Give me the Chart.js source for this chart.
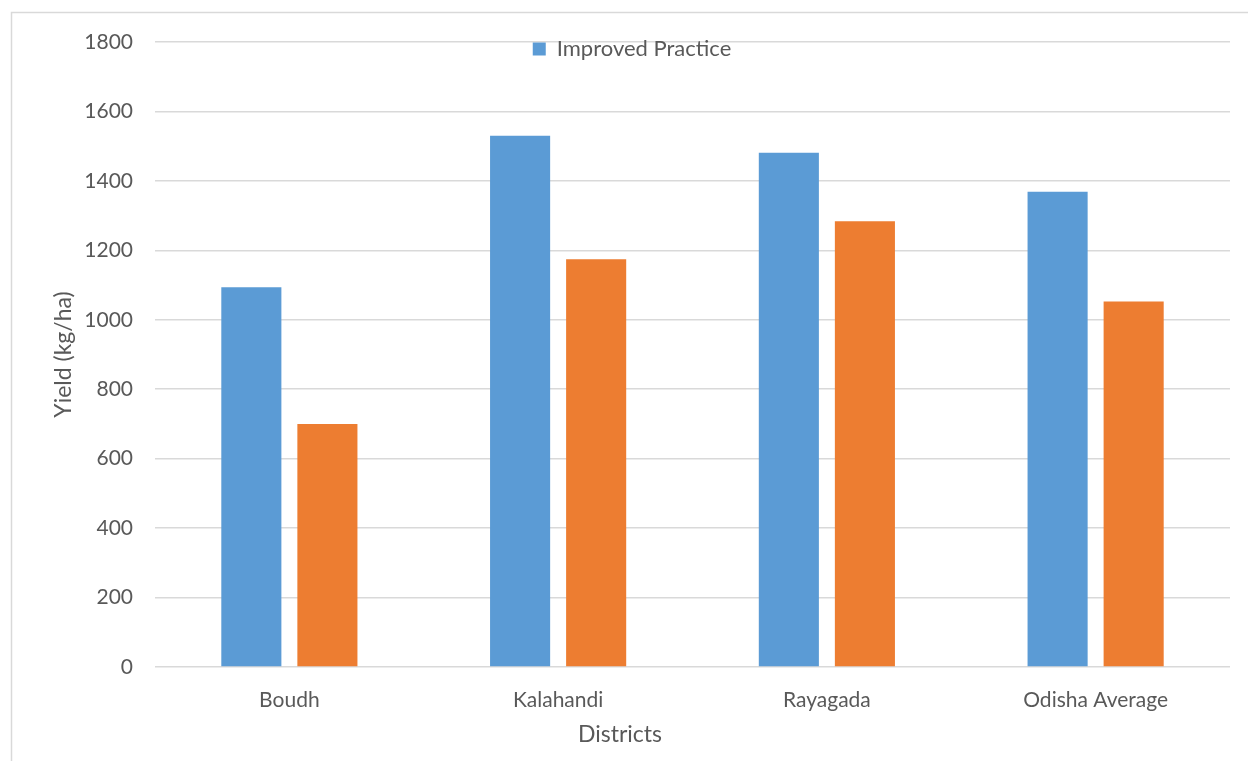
<!DOCTYPE html>
<html>
<head>
<meta charset="utf-8">
<script src="https://cdn.jsdelivr.net/npm/chart.js@4/dist/chart.umd.min.js"></script>
<style>
  html, body { margin: 0; padding: 0; background: #fff; }
  #wrap { width: 1248px; height: 761px; position: relative; }
</style>
</head>
<body>
<div id="wrap"><canvas id="yieldChart"></canvas></div>
<script>
const districts = ['Boudh', 'Kalahandi', 'Rayagada', 'Odisha Average'];
const improvedPractice = [1094, 1530, 1481, 1369];
const farmersPractice = [700, 1174, 1284, 1053];
const yTicks = [0, 200, 400, 600, 800, 1000, 1200, 1400, 1600, 1800];

const textColor = '#595959';
const gridColor = '#d9d9d9';
const fontFamily = 'Lato, "Open Sans", sans-serif';

// outer frame, x axis title (centred on the whole chart) and legend
// pulled down so it sits over the top gridline
const framePlugin = {
  id: 'frame',
  afterLayout(chart) {
    const lg = chart.legend;
    const dy = chart.chartArea.top - 5 - lg.top;
    const dx = 17;
    lg.top += dy;
    lg.bottom += dy;
    lg.left += dx;
    lg.right += dx;
    lg.adjustHitBoxes();
  },
  beforeDraw(chart) {
    const ctx = chart.ctx;
    ctx.save();
    ctx.strokeStyle = gridColor;
    ctx.lineWidth = 1.5;
    ctx.strokeRect(11.5, 12.5, chart.width + 20, chart.height + 20);
    ctx.restore();
  },
  afterDraw(chart) {
    const ctx = chart.ctx;
    ctx.save();
    ctx.fillStyle = textColor;
    ctx.font = '23px ' + fontFamily;
    ctx.textAlign = 'center';
    ctx.textBaseline = 'middle';
    ctx.fillText('Districts', 620, 735);
    ctx.restore();
  }
};

new Chart(document.getElementById('yieldChart'), {
  type: 'bar',
  data: {
    labels: districts,
    datasets: [
      {
        label: 'Improved Practice',
        data: improvedPractice,
        backgroundColor: '#5b9bd5',
        categoryPercentage: 0.566,
        barPercentage: 0.79,
      },
      {
        label: 'Farmers Practice',
        data: farmersPractice,
        backgroundColor: '#ed7d31',
        categoryPercentage: 0.566,
        barPercentage: 0.79,
      },
    ],
  },
  options: {
    responsive: true,
    maintainAspectRatio: false,
    animation: false,
    layout: { padding: { left: 0, right: 18, top: 9, bottom: 0 } },
    plugins: {
      tooltip: { enabled: false },
      legend: {
        position: 'top',
        align: 'center',
        labels: {
          boxWidth: 13,
          boxHeight: 13,
          padding: 1,
          color: textColor,
          font: { family: fontFamily, size: 22 },
          filter: item => item.datasetIndex === 0,
        },
      },
    },
    scales: {
      x: {
        grid: { display: false, drawTicks: false },
        border: { display: false },
        ticks: {
          color: textColor,
          padding: 21,
          font: { family: fontFamily, size: 21 },
        },
        afterFit(scale) { scale.height = 94; },
      },
      y: {
        min: 0,
        max: 1800,
        afterBuildTicks(scale) { scale.ticks = yTicks.map(v => ({ value: v })); },
        grid: { color: gridColor, lineWidth: 1.5, drawTicks: false },
        border: { display: false },
        ticks: {
          color: textColor,
          padding: 22,
          font: { family: fontFamily, size: 21 },
          callback: v => String(v),
        },
        title: {
          display: true,
          text: 'Yield (kg/ha)',
          color: textColor,
          padding: { top: 50, bottom: 0 },
          font: { family: fontFamily, size: 23 },
        },
        afterFit(scale) { scale.width = 155; },
      },
    },
  },
  plugins: [framePlugin],
});
</script>
</body>
</html>
